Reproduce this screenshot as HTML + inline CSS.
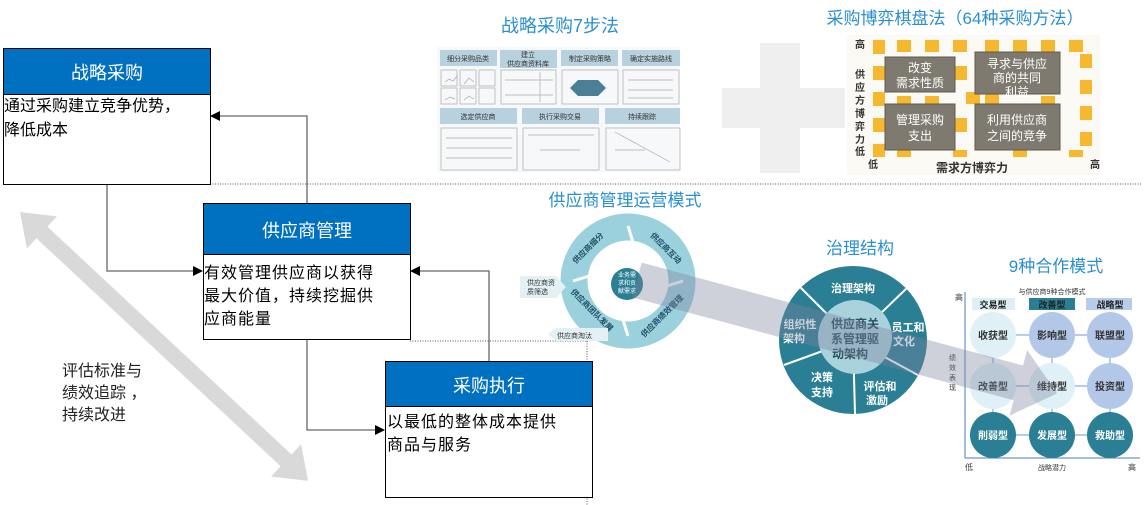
<!DOCTYPE html>
<html><head><meta charset="utf-8"><style>
body{margin:0;background:#fff;}
svg{display:block;font-family:"Liberation Sans","Noto Sans CJK SC",sans-serif;}
</style></head><body>
<svg width="1147" height="505" viewBox="0 0 1147 505" xmlns="http://www.w3.org/2000/svg">
<defs>
<marker id="ah" markerWidth="10" markerHeight="10" refX="9" refY="5" orient="auto" markerUnits="userSpaceOnUse"><path d="M0,0 L10,5 L0,10 z" fill="#000"/></marker>
</defs>
<line x1="210" y1="184" x2="1142" y2="184" stroke="#555" stroke-dasharray="1,1.5"/>
<line x1="410" y1="341" x2="588" y2="341" stroke="#555" stroke-dasharray="1,1.5"/>
<line x1="587" y1="341" x2="587" y2="505" stroke="#555" stroke-dasharray="1,1.5"/>

<g transform="translate(20,212) rotate(43.03)">
<polygon points="0,0 30,-22 30,-8 364,-8 364,-22 394,0 364,22 364,8 30,8 30,22" fill="#d9d9d9"/>
</g>
<text font-size="16" fill="#222"><tspan x="62" y="376">评估标准与</tspan><tspan x="62" y="398">绩效追踪 ，</tspan><tspan x="62" y="420">持续改进</tspan></text>

<g fill="none" stroke="#666" stroke-width="1.3">
<polyline points="107,184 107,271 202,271" marker-end="url(#ah)"/>
<polyline points="307,203 307,116 211,116" marker-end="url(#ah)"/>
<polyline points="307,339 307,430 384,430" marker-end="url(#ah)"/>
<polyline points="489,361 489,271 411,271" marker-end="url(#ah)"/>
</g>

<rect x="3.5" y="48.5" width="207" height="136" fill="#fff" stroke="#000"/>
<rect x="3.5" y="48.5" width="207" height="46" fill="#0070c0" stroke="#000"/>
<text x="107" y="79" font-size="18" fill="#fff" text-anchor="middle">战略采购</text>
<text font-size="16" fill="#000"><tspan x="4" y="111">通过采购建立竞争优势，</tspan><tspan x="4" y="135">降低成本</tspan></text>

<rect x="203.5" y="203.5" width="207" height="136" fill="#fff" stroke="#000"/>
<rect x="203.5" y="203.5" width="207" height="51" fill="#0070c0" stroke="#000"/>
<text x="307" y="237" font-size="18" fill="#fff" text-anchor="middle">供应商管理</text>
<text font-size="16" fill="#000" letter-spacing="1"><tspan x="204" y="278">有效管理供应商以获得</tspan><tspan x="204" y="301">最大价值，持续挖掘供</tspan><tspan x="204" y="324">应商能量</tspan></text>

<rect x="385.5" y="361.5" width="207" height="136" fill="#fff" stroke="#000"/>
<rect x="385.5" y="361.5" width="207" height="45" fill="#0070c0" stroke="#000"/>
<text x="489" y="392" font-size="18" fill="#fff" text-anchor="middle">采购执行</text>
<text font-size="16" fill="#000" letter-spacing="1"><tspan x="387" y="427">以最低的整体成本提供</tspan><tspan x="387" y="450">商品与服务</tspan></text>

<!-- 7 steps -->
<text x="560" y="32" font-size="18" fill="#2a8fd0" text-anchor="middle">战略采购7步法</text>
<g>
<rect x="437" y="47" width="243" height="125" fill="#f6f8f9"/>
<g fill="#b7d2de">
<rect x="440" y="50" width="57" height="16"/><rect x="500" y="50" width="57" height="18"/><rect x="561" y="50" width="57" height="16"/><rect x="622" y="50" width="58" height="16"/>
<rect x="440" y="108" width="77" height="16"/><rect x="522" y="108" width="77" height="16"/><rect x="605" y="108" width="75" height="16"/>
</g>
<g font-size="7" fill="#333" text-anchor="middle">
<text x="468" y="61">细分采购品类</text><text x="528" y="57">建立</text><text x="528" y="66">供应商资料库</text><text x="590" y="61">制定采购策略</text><text x="651" y="61">确定实施路线</text>
<text x="478" y="119">选定供应商</text><text x="560" y="119">执行采购交易</text><text x="642" y="119">持续跟踪</text>
</g>
<g fill="none" stroke="#aaa" stroke-width="0.7">
<rect x="441" y="70" width="16" height="16"/><rect x="460" y="70" width="16" height="16"/><rect x="479" y="70" width="16" height="16"/>
<rect x="441" y="88" width="16" height="16"/><rect x="460" y="88" width="16" height="16"/><rect x="479" y="88" width="16" height="16"/>
<rect x="501" y="70" width="55" height="34"/><rect x="562" y="70" width="56" height="34"/><rect x="623" y="70" width="56" height="34"/>
<rect x="441" y="128" width="76" height="42"/><rect x="523" y="128" width="76" height="42"/><rect x="606" y="128" width="74" height="42"/>
<path d="M445,82 l4,-3 4,2 4,-5 M464,84 l5,-6 5,4 M445,100 l5,-3 5,2 M464,100 l5,-4 5,3 M505,95 h48 M505,80 h48 M540,72 v30 M628,80 h45 M628,90 h45 M628,98 h45 M446,138 h66 M446,148 h66 M446,158 h66 M528,135 h66 M540,150 h40 M615,132 l55,30 M615,150 h30"/>
</g>
<polygon points="570,88 578,80 598,80 606,88 598,96 578,96" fill="#4a7f95"/>
</g>

<!-- plus -->
<rect x="760" y="43" width="40" height="130" fill="#efefef"/>
<rect x="722" y="88" width="123" height="40" fill="#efefef"/>

<!-- chessboard -->
<text x="955" y="24" font-size="17" fill="#2a8fd0" text-anchor="middle">采购博弈棋盘法（64种采购方法）</text>
<rect x="847" y="35" width="253" height="140" fill="#fbf9f3"/>
<g fill="#f5b82e">
<rect x="873" y="40" width="12" height="14"/><rect x="897" y="40" width="14" height="12"/><rect x="925" y="40" width="14" height="12"/><rect x="953" y="40" width="14" height="12"/>
<rect x="985" y="40" width="14" height="12"/><rect x="1013" y="40" width="14" height="12"/><rect x="1041" y="40" width="14" height="12"/><rect x="1069" y="40" width="14" height="12"/>
<rect x="873" y="66" width="12" height="14"/><rect x="873" y="92" width="12" height="14"/><rect x="873" y="118" width="12" height="14"/><rect x="873" y="144" width="12" height="13"/>
<rect x="1080" y="54" width="12" height="14"/><rect x="1080" y="80" width="12" height="14"/><rect x="1080" y="106" width="12" height="14"/><rect x="1080" y="132" width="12" height="14"/>
<rect x="955" y="66" width="12" height="14"/><rect x="955" y="118" width="12" height="14"/><rect x="966" y="92" width="14" height="12"/><rect x="985" y="92" width="14" height="12"/>
<rect x="897" y="96" width="14" height="8"/><rect x="925" y="96" width="14" height="8"/><rect x="1041" y="96" width="14" height="8"/>
<rect x="897" y="150" width="14" height="7"/><rect x="953" y="150" width="14" height="7"/><rect x="1013" y="150" width="14" height="7"/><rect x="1069" y="150" width="14" height="7"/>
</g>
<g fill="#7e7a6f" stroke="#5e5a50">
<rect x="885" y="57" width="70" height="35"/><rect x="975" y="52" width="85" height="42"/>
<rect x="885" y="104" width="70" height="46"/><rect x="975" y="104" width="85" height="46"/>
</g>
<g font-size="12" fill="#fff" text-anchor="middle">
<text x="920" y="72">改变</text><text x="920" y="87">需求性质</text>
<text x="1017" y="68">寻求与供应</text><text x="1017" y="82">商的共同</text><text x="1017" y="96">利益</text>
<text x="920" y="124">管理采购</text><text x="920" y="140">支出</text>
<text x="1017" y="124">利用供应商</text><text x="1017" y="140">之间的竞争</text>
</g>
<g font-size="10" fill="#333" font-weight="bold" text-anchor="middle">
<text x="860" y="48">高</text><text x="860" y="78">供</text><text x="860" y="91">应</text><text x="860" y="104">方</text><text x="860" y="117">博</text><text x="860" y="130">弈</text><text x="860" y="143">力</text>
<text x="860" y="155">低</text>
</g>
<text x="868" y="168" font-size="10" fill="#333" font-weight="bold">低</text>
<text x="1090" y="168" font-size="10" fill="#333" font-weight="bold">高</text>
<text x="972" y="172" font-size="12" fill="#333" font-weight="bold" text-anchor="middle">需求方博弈力</text>

<!-- cycle -->
<text x="625" y="206" font-size="17" fill="#2a8fd0" text-anchor="middle">供应商管理运营模式</text>
<circle cx="628" cy="281" r="54" fill="none" stroke="#9bd0dd" stroke-width="27"/>
<g stroke="#fff" stroke-width="3">
<line x1="628" y1="226" x2="636" y2="252"/><line x1="683" y1="281" x2="657" y2="289"/><line x1="628" y1="336" x2="620" y2="310"/><line x1="573" y1="281" x2="599" y2="273"/>
</g>
<circle cx="628" cy="281" r="40" fill="#fff" opacity="0"/>
<circle cx="627" cy="284" r="16" fill="#2a7f94"/>
<g font-size="6" fill="#fff" text-anchor="middle"><text x="627" y="277">业务需</text><text x="627" y="285">求和贡</text><text x="627" y="293">献需求</text></g>
<g font-size="8" fill="#1e4f66" font-weight="bold" text-anchor="middle">
<text x="590" y="250" transform="rotate(-45 590 250)">供应商细分</text>
<text x="664" y="250" transform="rotate(45 664 250)">供应商互动</text>
<text x="664" y="318" transform="rotate(-45 664 318)">供应商绩效管理</text>
<text x="590" y="312" transform="rotate(45 590 312)">供应商团队发展</text>
</g>
<polygon points="520,276 556,276 566,287 556,298 520,298" fill="#e3f1f5"/>
<text font-size="7" fill="#333"><tspan x="527" y="285">供应商资</tspan><tspan x="527" y="294">质筛选</tspan></text>
<polygon points="548,334 556,328 608,328 608,341 556,341" fill="#e3f1f5"/>
<text x="557" y="338" font-size="7" fill="#333">供应商淘汰</text>

<!-- governance -->
<text x="860" y="254" font-size="17" fill="#2a8fd0" text-anchor="middle">治理结构</text>
<circle cx="853" cy="340" r="74" fill="#2a7f94"/>
<g stroke="#fff" stroke-width="2">
<line x1="853" y1="340" x2="800" y2="287"/><line x1="853" y1="340" x2="908" y2="287"/>
<line x1="853" y1="340" x2="784" y2="365"/><line x1="853" y1="340" x2="855" y2="414"/><line x1="853" y1="340" x2="918" y2="375"/>
</g>
<circle cx="855" cy="337" r="37" fill="#a8d2dc"/>
<g font-size="11" fill="#fff" font-weight="bold" text-anchor="middle">
<text x="853" y="292">治理架构</text>
<text x="800" y="328">组织性</text><text x="794" y="342">架构</text>
<text x="908" y="331">员工和</text><text x="904" y="345">文化</text>
<text x="822" y="381">决策</text><text x="822" y="396">支持</text>
<text x="880" y="390">评估和</text><text x="877" y="404">激励</text>
</g>
<g font-size="12" fill="#2a4f5e" font-weight="bold" text-anchor="middle">
<text x="855" y="328">供应商关</text><text x="855" y="343">系管理驱</text><text x="850" y="358">动架构</text>
</g>

<!-- 9 modes -->
<text x="1056" y="272" font-size="17" fill="#2a8fd0" text-anchor="middle">9种合作模式</text>
<text x="1052" y="294" font-size="7" fill="#333" text-anchor="middle">与供应商9种合作模式</text>
<line x1="965" y1="292" x2="965" y2="458" stroke="#4f7bbf"/>
<line x1="965" y1="458" x2="1140" y2="458" stroke="#4f7bbf"/>
<text x="955" y="300" font-size="8" fill="#333">高</text>
<text x="965" y="470" font-size="8" fill="#333">低</text>
<text x="1128" y="470" font-size="8" fill="#333">高</text>
<text x="1052" y="470" font-size="7" fill="#333" text-anchor="middle">战略潜力</text>
<text font-size="7" fill="#333"><tspan x="949" y="360">绩</tspan><tspan x="949" y="370">效</tspan><tspan x="949" y="380">表</tspan><tspan x="949" y="390">现</tspan></text>
<rect x="972" y="298" width="43" height="12" fill="#dceff5"/><rect x="1029" y="298" width="46" height="12" fill="#2a7f94"/><rect x="1086" y="298" width="46" height="12" fill="#b7cbea"/>
<g font-size="9" fill="#222" font-weight="bold" text-anchor="middle">
<text x="993" y="308">交易型</text><text x="1052" y="308">改善型</text><text x="1110" y="308">战略型</text>
</g>
<g stroke="#b7cbea" stroke-width="2">
<line x1="993" y1="335" x2="1110" y2="335"/><line x1="993" y1="386" x2="1110" y2="386"/><line x1="993" y1="435" x2="1110" y2="435"/>
<line x1="993" y1="335" x2="993" y2="435"/><line x1="1052" y1="335" x2="1052" y2="435"/><line x1="1110" y1="335" x2="1110" y2="435"/>
</g>
<circle cx="993" cy="335" r="23" fill="#dff0f6"/><circle cx="1052" cy="335" r="23" fill="#b3c8e9"/><circle cx="1110" cy="335" r="23" fill="#b3c8e9"/>
<circle cx="993" cy="386" r="23" fill="#dff0f6"/><circle cx="1052" cy="386" r="23" fill="#dff0f6"/><circle cx="1110" cy="386" r="23" fill="#b3c8e9"/>
<circle cx="993" cy="435" r="23" fill="#2a7f94"/><circle cx="1052" cy="435" r="23" fill="#2a7f94"/><circle cx="1110" cy="435" r="23" fill="#2a7f94"/>
<g font-size="10" font-weight="bold" text-anchor="middle" fill="#333">
<text x="993" y="339">收获型</text><text x="1052" y="339">影响型</text><text x="1110" y="339">联盟型</text>
<text x="993" y="390">改善型</text><text x="1052" y="390">维持型</text><text x="1110" y="390">投资型</text>
</g>
<g font-size="10" font-weight="bold" text-anchor="middle" fill="#fff">
<text x="993" y="439">削弱型</text><text x="1052" y="439">发展型</text><text x="1110" y="439">救助型</text>
</g>

<!-- translucent arrow -->
<g transform="translate(637,280) rotate(15.1)">
<polygon points="0,-18 395,-18 395,-34 435,0 395,34 395,18 0,18" fill="#7f849f" fill-opacity="0.38"/>
</g>
</svg>
</body></html>
